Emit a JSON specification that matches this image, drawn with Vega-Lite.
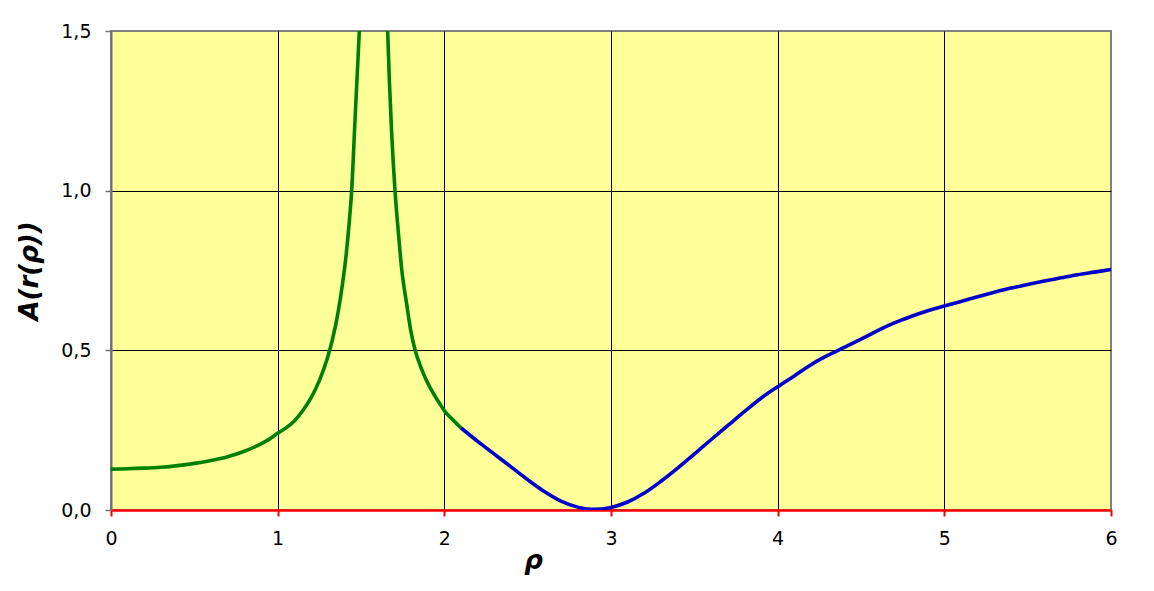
{
  "$schema": "https://vega.github.io/schema/vega-lite/v6.json",
  "width": 1000,
  "height": 479,
  "autosize": {"type": "none"},
  "padding": {"left": 111, "top": 31, "right": 43, "bottom": 81},
  "background": "white",
  "config": {
    "view": {"fill": "#FFFF99", "stroke": "#808080", "strokeWidth": 2},
    "font": "DejaVu Sans"
  },
  "data": {
    "values": [
      {"rho": 0, "A": 0.128, "s": "g1"},
      {"rho": 0.1, "A": 0.129, "s": "g1"},
      {"rho": 0.2, "A": 0.131, "s": "g1"},
      {"rho": 0.3, "A": 0.134, "s": "g1"},
      {"rho": 0.4, "A": 0.139, "s": "g1"},
      {"rho": 0.5, "A": 0.146, "s": "g1"},
      {"rho": 0.6, "A": 0.155, "s": "g1"},
      {"rho": 0.7, "A": 0.167, "s": "g1"},
      {"rho": 0.8, "A": 0.184, "s": "g1"},
      {"rho": 0.9, "A": 0.207, "s": "g1"},
      {"rho": 0.95, "A": 0.222, "s": "g1"},
      {"rho": 1.0, "A": 0.240, "s": "g1"},
      {"rho": 1.05, "A": 0.257, "s": "g1"},
      {"rho": 1.1, "A": 0.279, "s": "g1"},
      {"rho": 1.15, "A": 0.311, "s": "g1"},
      {"rho": 1.2, "A": 0.351, "s": "g1"},
      {"rho": 1.25, "A": 0.405, "s": "g1"},
      {"rho": 1.3, "A": 0.478, "s": "g1"},
      {"rho": 1.33, "A": 0.537, "s": "g1"},
      {"rho": 1.36, "A": 0.612, "s": "g1"},
      {"rho": 1.39, "A": 0.712, "s": "g1"},
      {"rho": 1.41, "A": 0.795, "s": "g1"},
      {"rho": 1.43, "A": 0.905, "s": "g1"},
      {"rho": 1.444, "A": 1.000, "s": "g1"},
      {"rho": 1.464, "A": 1.220, "s": "g1"},
      {"rho": 1.478, "A": 1.370, "s": "g1"},
      {"rho": 1.49, "A": 1.500, "s": "g1"},
      {"rho": 1.50, "A": 1.620, "s": "g1"},
      {"rho": 1.65, "A": 1.620, "s": "g2"},
      {"rho": 1.66, "A": 1.500, "s": "g2"},
      {"rho": 1.67, "A": 1.347, "s": "g2"},
      {"rho": 1.684, "A": 1.180, "s": "g2"},
      {"rho": 1.704, "A": 1.000, "s": "g2"},
      {"rho": 1.724, "A": 0.870, "s": "g2"},
      {"rho": 1.744, "A": 0.755, "s": "g2"},
      {"rho": 1.774, "A": 0.645, "s": "g2"},
      {"rho": 1.8, "A": 0.558, "s": "g2"},
      {"rho": 1.824, "A": 0.502, "s": "g2"},
      {"rho": 1.85, "A": 0.460, "s": "g2"},
      {"rho": 1.874, "A": 0.428, "s": "g2"},
      {"rho": 1.9, "A": 0.398, "s": "g2"},
      {"rho": 1.934, "A": 0.365, "s": "g2"},
      {"rho": 1.97, "A": 0.335, "s": "g2"},
      {"rho": 2.004, "A": 0.308, "s": "g2"},
      {"rho": 2.05, "A": 0.283, "s": "g2"},
      {"rho": 2.1, "A": 0.257, "s": "g2"},
      {"rho": 2.1, "A": 0.257, "s": "b"},
      {"rho": 2.2, "A": 0.215, "s": "b"},
      {"rho": 2.3, "A": 0.175, "s": "b"},
      {"rho": 2.4, "A": 0.135, "s": "b"},
      {"rho": 2.5, "A": 0.095, "s": "b"},
      {"rho": 2.6, "A": 0.058, "s": "b"},
      {"rho": 2.7, "A": 0.028, "s": "b"},
      {"rho": 2.8, "A": 0.009, "s": "b"},
      {"rho": 2.9, "A": 0.002, "s": "b"},
      {"rho": 3.0, "A": 0.008, "s": "b"},
      {"rho": 3.1, "A": 0.025, "s": "b"},
      {"rho": 3.2, "A": 0.053, "s": "b"},
      {"rho": 3.3, "A": 0.090, "s": "b"},
      {"rho": 3.4, "A": 0.131, "s": "b"},
      {"rho": 3.5, "A": 0.175, "s": "b"},
      {"rho": 3.6, "A": 0.220, "s": "b"},
      {"rho": 3.7, "A": 0.264, "s": "b"},
      {"rho": 3.8, "A": 0.308, "s": "b"},
      {"rho": 3.9, "A": 0.350, "s": "b"},
      {"rho": 4.0, "A": 0.386, "s": "b"},
      {"rho": 4.1, "A": 0.420, "s": "b"},
      {"rho": 4.2, "A": 0.455, "s": "b"},
      {"rho": 4.3, "A": 0.484, "s": "b"},
      {"rho": 4.4, "A": 0.509, "s": "b"},
      {"rho": 4.5, "A": 0.535, "s": "b"},
      {"rho": 4.6, "A": 0.562, "s": "b"},
      {"rho": 4.7, "A": 0.586, "s": "b"},
      {"rho": 4.8, "A": 0.606, "s": "b"},
      {"rho": 4.9, "A": 0.624, "s": "b"},
      {"rho": 5.0, "A": 0.639, "s": "b"},
      {"rho": 5.1, "A": 0.653, "s": "b"},
      {"rho": 5.2, "A": 0.668, "s": "b"},
      {"rho": 5.3, "A": 0.682, "s": "b"},
      {"rho": 5.4, "A": 0.695, "s": "b"},
      {"rho": 5.5, "A": 0.706, "s": "b"},
      {"rho": 5.6, "A": 0.717, "s": "b"},
      {"rho": 5.7, "A": 0.727, "s": "b"},
      {"rho": 5.8, "A": 0.737, "s": "b"},
      {"rho": 5.9, "A": 0.745, "s": "b"},
      {"rho": 6.0, "A": 0.753, "s": "b"}
    ]
  },
  "mark": {"type": "line", "clip": true, "strokeWidth": 3.6, "interpolate": "monotone"},
  "encoding": {
    "x": {
      "field": "rho", "type": "quantitative",
      "scale": {"domain": [0, 6], "nice": false, "zero": false},
      "axis": {
        "title": "ρ",
        "titleFont": "DejaVu Sans", "titleFontSize": 26, "titleFontWeight": "bold", "titleFontStyle": "italic",
        "titleColor": "black",
        "titleX": 422, "titleY": 58, "titleBaseline": "alphabetic", "titleAlign": "center",
        "values": [0, 1, 2, 3, 4, 5, 6],
        "labelFontSize": 19, "labelColor": "black", "labelPadding": 13,
        "labelFlush": false,
        "domainColor": "#FF0000", "domainWidth": 2.5,
        "tickColor": "#FF0000", "tickWidth": 2, "tickSize": 6,
        "grid": true,
        "gridColor": {"condition": {"test": "datum.value === 0 || datum.value === 6", "value": "transparent"}, "value": "black"},
        "gridWidth": 1, "gridOpacity": 1
      }
    },
    "y": {
      "field": "A", "type": "quantitative",
      "scale": {"domain": [0, 1.5], "nice": false, "zero": false},
      "axis": {
        "title": "A(r(ρ))",
        "titleFont": "DejaVu Sans", "titleFontSize": 26, "titleFontWeight": "bold", "titleFontStyle": "italic",
        "titleColor": "black",
        "titleX": -82, "titleY": 239.5, "titleBaseline": "middle", "titleAlign": "center", "titleAngle": -90,
        "values": [0, 0.5, 1.0, 1.5],
        "labelExpr": "replace(format(datum.value, '.1f'), '.', ',')",
        "labelFontSize": 19, "labelColor": "black", "labelPadding": 14,
        "labelFlush": false,
        "domainColor": "#707070", "domainWidth": 2,
        "tickColor": "#707070", "tickWidth": 1.5, "tickSize": 6,
        "grid": true,
        "gridColor": {"condition": {"test": "datum.value === 0 || datum.value === 1.5", "value": "transparent"}, "value": "black"},
        "gridWidth": 1, "gridOpacity": 1
      }
    },
    "color": {
      "field": "s", "type": "nominal",
      "scale": {"domain": ["g1", "g2", "b"], "range": ["#008000", "#008000", "#0000CC"]},
      "legend": null
    }
  }
}
